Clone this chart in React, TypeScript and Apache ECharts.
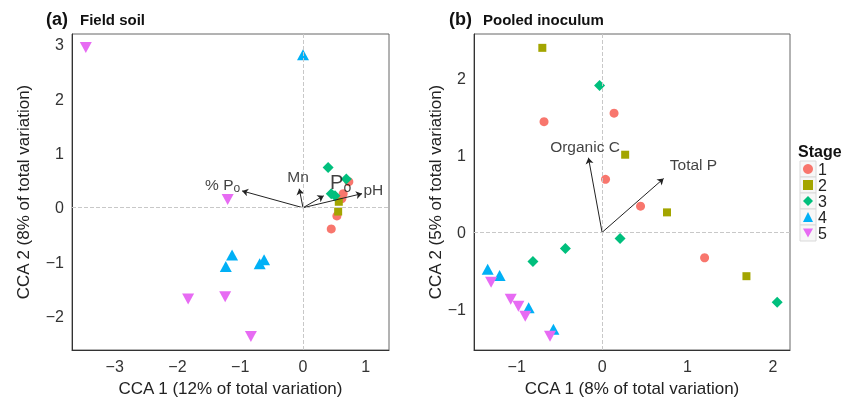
import React, { useEffect, useRef } from "react";
import * as echarts from "echarts";

// ---------- data ----------
const stageNames = ["1", "2", "3", "4", "5"];
const stageColors = ["#F8766D", "#A3A500", "#00BF7D", "#00B0F6", "#E76BF3"];

// Panel (a) Field soil: [CCA1, CCA2]
const fieldStage1 = [[0.45, -0.39], [0.54, -0.15], [0.62, 0.17], [0.64, 0.26], [0.73, 0.48]];
const fieldStage2 = [[0.57, 0.11], [0.56, -0.07]];
const fieldStage3 = [[0.40, 0.74], [0.69, 0.53], [0.45, 0.26], [0.51, 0.22]];
const fieldStage4 = [[0.0, 2.82], [-1.13, -0.87], [-1.23, -1.08], [-0.62, -0.96], [-0.69, -1.03]];
const fieldStage5 = [[-3.46, 2.95], [-1.2, 0.15], [-1.83, -1.68], [-1.24, -1.64], [-0.83, -2.37]];

// Panel (b) Pooled inoculum
const pooledStage1 = [[0.14, 1.55], [-0.68, 1.44], [0.04, 0.69], [0.45, 0.34], [1.2, -0.33]];
const pooledStage2 = [[-0.7, 2.4], [0.27, 1.01], [0.76, 0.26], [1.69, -0.57]];
const pooledStage3 = [[-0.03, 1.91], [0.21, -0.08], [-0.43, -0.21], [-0.81, -0.38], [2.05, -0.91]];
const pooledStage4 = [[-1.34, -0.48], [-1.2, -0.56], [-0.86, -0.98], [-0.57, -1.26]];
const pooledStage5 = [[-1.3, -0.65], [-1.07, -0.87], [-0.98, -0.96], [-0.9, -1.09], [-0.61, -1.35]];

// Environmental vectors (arrow tips) and their label anchors
const fieldArrowNames = ["%Po", "Mn", "Po", "pH"];
const fieldArrowTips = [[-0.97, 0.31], [-0.06, 0.35], [0.33, 0.22], [0.94, 0.26]];
const fieldArrowLabelAt = [[-1.28, 0.42], [-0.08, 0.58], [0.6, 0.47], [1.12, 0.33]];

const pooledArrowNames = ["Organic C", "Total P"];
const pooledArrowTips = [[-0.16, 0.97], [0.72, 0.7]];
const pooledArrowLabelAt = [[-0.2, 1.12], [1.07, 0.88]];

// Tick labels
const fieldXTicks = [-3, -2, -1, 0, 1];
const fieldYTicks = [-2, -1, 0, 1, 2, 3];
const pooledXTicks = [-1, 0, 1, 2];
const pooledYTicks = [-1, 0, 1, 2];

const fieldData = [fieldStage1, fieldStage2, fieldStage3, fieldStage4, fieldStage5];
const pooledData = [pooledStage1, pooledStage2, pooledStage3, pooledStage4, pooledStage5];

const invTri = "path://M0,0L10,0L5,9Z";
const symbols = ["circle", "rect", "diamond", "triangle", invTri];
const symbolSizes = [9, 8, 11, [12, 11], [12, 11]];

const FONT = "Arial, 'Liberation Sans', Helvetica, sans-serif";

const labelText = (n: string) => {
  if (n === "%Po") return "% P{sub|o}";
  if (n === "Po") return "{big|P}{bsub|o}";
  return n;
};

const fmt = (v: number) => String(v).replace("-", "\u2212");

export default function App() {
  const ref = useRef<HTMLDivElement>(null);
  useEffect(() => {
    if (!ref.current) return;
    const chart = echarts.init(ref.current, undefined, { renderer: "svg" });

    const axisCommon = {
      axisLine: { show: true, onZero: false, lineStyle: { color: "#333", width: 1 } },
      axisTick: { show: false },
      splitLine: { show: false },
      nameLocation: "middle" as const,
      nameTextStyle: { fontSize: 17, color: "#222", fontFamily: FONT },
    };
    const labelStyle = { fontSize: 16, color: "#333", fontFamily: FONT, margin: 8, formatter: fmt };

    const series: any[] = [];
    [fieldData, pooledData].forEach((panel, gi) => {
      series.push({
        type: "scatter",
        name: "zero" + gi,
        xAxisIndex: gi,
        yAxisIndex: gi,
        data: [],
        z: 1,
        markLine: {
          silent: true,
          symbol: "none",
          label: { show: false },
          lineStyle: { type: "dashed", color: "#c8c8c8", width: 1 },
          data: [{ xAxis: 0 }, { yAxis: 0 }],
        },
      });
      panel.forEach((pts, si) => {
        series.push({
          type: "scatter",
          name: stageNames[si],
          xAxisIndex: gi,
          yAxisIndex: gi,
          data: pts,
          symbol: symbols[si],
          symbolSize: symbolSizes[si],
          itemStyle: { color: stageColors[si], opacity: 1 },
          z: 3,
        });
      });
      const names = gi === 0 ? fieldArrowNames : pooledArrowNames;
      const tips = gi === 0 ? fieldArrowTips : pooledArrowTips;
      const labs = gi === 0 ? fieldArrowLabelAt : pooledArrowLabelAt;
      series.push({
        type: "lines",
        coordinateSystem: "cartesian2d",
        xAxisIndex: gi,
        yAxisIndex: gi,
        symbol: ["none", "arrow"],
        symbolSize: [0, 6],
        lineStyle: { color: "#222", width: 1, opacity: 1 },
        data: tips.map((t) => ({ coords: [[0, 0], t] })),
        z: 4,
      });
      series.push({
        type: "scatter",
        name: "labels" + gi,
        xAxisIndex: gi,
        yAxisIndex: gi,
        symbolSize: 0,
        data: labs.map((p, i) => ({ value: p, name: names[i] })),
        label: {
          show: true,
          position: "inside",
          formatter: (p: any) => labelText(p.name),
          fontSize: 15.5,
          color: "#111",
          fontFamily: FONT,
          rich: {
            sub: { fontSize: 12, padding: [7, 0, 0, 0], color: "#111", fontFamily: FONT },
            big: { fontSize: 20, color: "#111", fontFamily: FONT },
            bsub: { fontSize: 14, padding: [9, 0, 0, 0], color: "#111", fontFamily: FONT },
          },
        },
        z: 5,
      });
    });

    const legendRects = stageNames.map((_, i) => ({
      type: "rect",
      shape: { x: 800, y: 161 + i * 16, width: 16, height: 16 },
      style: { fill: "#f7f7f7", stroke: "#d9d9d9", lineWidth: 1 },
      z: -1,
    }));

    chart.setOption({
      animation: false,
      textStyle: { fontFamily: FONT },
      grid: [
        { left: 72, top: 34, width: 317, height: 316, show: true, borderColor: "#666", borderWidth: 1, backgroundColor: "#fff" },
        { left: 474, top: 34, width: 316, height: 317, show: true, borderColor: "#666", borderWidth: 1, backgroundColor: "#fff" },
      ],
      xAxis: [
        {
          ...axisCommon, gridIndex: 0, type: "value", min: -3.68, max: 1.37,
          name: "CCA 1 (12% of total variation)", nameGap: 30,
          axisLabel: { ...labelStyle, customValues: fieldXTicks },
        },
        {
          ...axisCommon, gridIndex: 1, type: "value", min: -1.5, max: 2.2,
          name: "CCA 1 (8% of total variation)", nameGap: 30,
          axisLabel: { ...labelStyle, customValues: pooledXTicks },
        },
      ],
      yAxis: [
        {
          ...axisCommon, gridIndex: 0, type: "value", min: -2.62, max: 3.2,
          name: "CCA 2 (8% of total variation)", nameGap: 40,
          axisLabel: { ...labelStyle, customValues: fieldYTicks },
        },
        {
          ...axisCommon, gridIndex: 1, type: "value", min: -1.53, max: 2.58,
          name: "CCA 2 (5% of total variation)", nameGap: 30,
          axisLabel: { ...labelStyle, customValues: pooledYTicks },
        },
      ],
      legend: {
        data: stageNames,
        orient: "vertical",
        left: 803,
        top: 161,
        itemWidth: 10,
        itemHeight: 10,
        itemGap: 0,
        padding: 0,
        selectedMode: false,
        textStyle: { fontSize: 16, color: "#222", fontFamily: FONT, lineHeight: 16 },
      },
      graphic: [
        { type: "text", left: 46, top: 10, style: { text: "(a)", fontSize: 18, fontWeight: "bold", fill: "#111", fontFamily: FONT } },
        { type: "text", left: 80, top: 12, style: { text: "Field soil", fontSize: 15, fontWeight: "bold", fill: "#111", fontFamily: FONT } },
        { type: "text", left: 449, top: 10, style: { text: "(b)", fontSize: 18, fontWeight: "bold", fill: "#111", fontFamily: FONT } },
        { type: "text", left: 483, top: 12, style: { text: "Pooled inoculum", fontSize: 15, fontWeight: "bold", fill: "#111", fontFamily: FONT } },
        { type: "text", left: 798, top: 143, style: { text: "Stage", fontSize: 16, fontWeight: "bold", fill: "#111", fontFamily: FONT } },
        ...legendRects,
      ],
      series,
    });
    return () => chart.dispose();
  }, []);
  return <div ref={ref} style={{ width: 843, height: 402, position: "fixed", left: 0, top: 0 }} />;
}
